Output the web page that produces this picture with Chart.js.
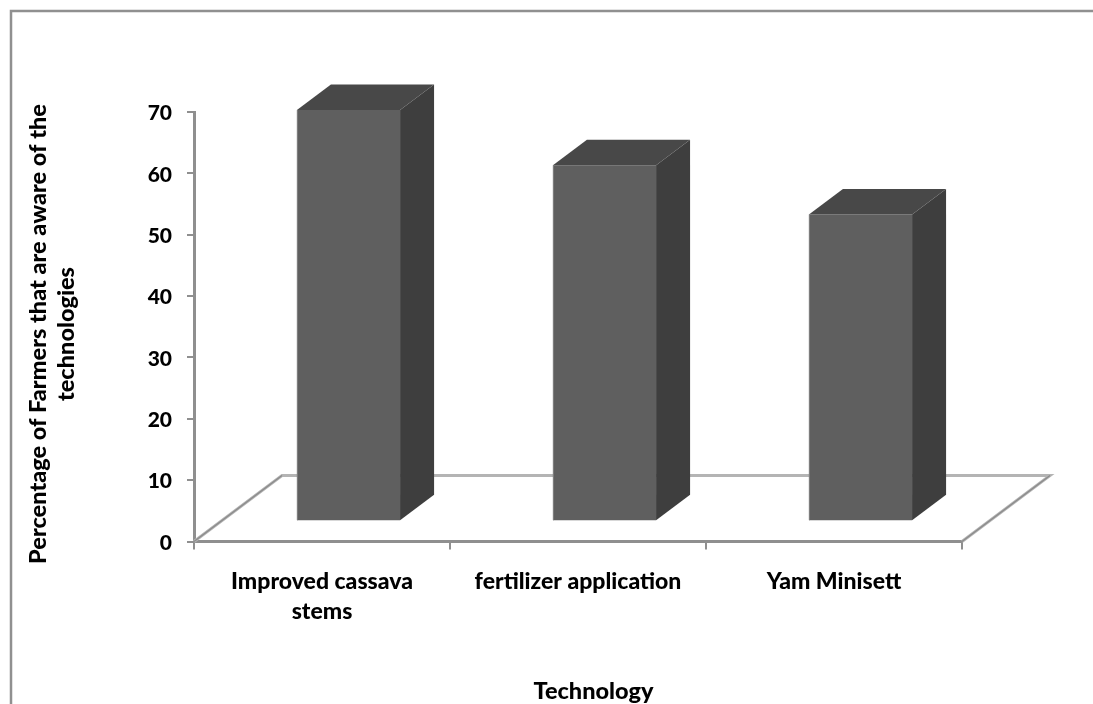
<!DOCTYPE html>
<html>
<head>
<meta charset="utf-8">
<title>Technology awareness</title>
<style>
    html, body { margin: 0; padding: 0; background: #fff; overflow: hidden; }
    canvas { display: block; }
</style>
<script src="https://cdn.jsdelivr.net/npm/chart.js@4"></script>
</head>
<body>
<canvas id="awarenessChart" width="1093" height="704"></canvas>
<script>
const categories = [['Improved cassava', 'stems'], 'fertilizer application', 'Yam Minisett'];
const awareness = [67, 58, 50];
const yTicks = [0, 10, 20, 30, 40, 50, 60, 70];
const xTitle = 'Technology';
const yTitle = ['Percentage of Farmers that are aware of the', 'technologies'];

const AXIS_GREY = '#8f8f8f';
const FONT = 'Lato';

// bars stand part way back on the floor, then extrude further back
const barShift = { x: 26.5, y: -20.3 };
const barDepth = { x: 34, y: 25.5 };
const floorDepth = { x: 88, y: 66 };

const pseudo3d = {
    id: 'pseudo3d',
    beforeDraw(chart) {
        // frame runs off the right and bottom edges
        const ctx = chart.ctx;
        ctx.save();
        ctx.strokeStyle = '#909090';
        ctx.lineWidth = 2.5;
        ctx.beginPath();
        ctx.moveTo(11, 704);
        ctx.lineTo(11, 11);
        ctx.lineTo(1093, 11);
        ctx.stroke();
        ctx.restore();
    },
    beforeDatasetsDraw(chart) {
        const ctx = chart.ctx;
        const { left, right, bottom } = chart.chartArea;
        const backY = bottom - floorDepth.y;
        ctx.save();
        // floor outline
        ctx.lineCap = 'butt';
        ctx.strokeStyle = '#b4b4b4';
        ctx.lineWidth = 3;
        ctx.beginPath();
        ctx.moveTo(left, bottom);
        ctx.lineTo(left + floorDepth.x, backY);
        ctx.lineTo(right + floorDepth.x, backY);
        ctx.lineTo(right, bottom);
        ctx.stroke();
        ctx.strokeStyle = '#8a8a8a';
        ctx.lineWidth = 1.2;
        ctx.beginPath();
        ctx.moveTo(left, bottom);
        ctx.lineTo(left + floorDepth.x, backY);
        ctx.moveTo(right + floorDepth.x, backY);
        ctx.lineTo(right, bottom);
        ctx.stroke();
        ctx.restore();
        // front faces come from the bar controller, moved back on the floor
        ctx.save();
        ctx.translate(barShift.x, barShift.y);
    },
    afterDatasetsDraw(chart) {
        const ctx = chart.ctx;
        ctx.restore();
        ctx.save();
        chart.getDatasetMeta(0).data.forEach(bar => {
            const p = bar.getProps(['x', 'y', 'base', 'width'], true);
            const l = p.x - p.width / 2 + barShift.x;
            const r = p.x + p.width / 2 + barShift.x;
            const t = p.y + barShift.y;
            const b = p.base + barShift.y;

            // side face
            ctx.fillStyle = '#3e3e3e';
            ctx.beginPath();
            ctx.moveTo(r, t);
            ctx.lineTo(r + barDepth.x, t - barDepth.y);
            ctx.lineTo(r + barDepth.x, b - barDepth.y);
            ctx.lineTo(r, b);
            ctx.closePath();
            ctx.fill();

            // top face
            ctx.fillStyle = '#484848';
            ctx.beginPath();
            ctx.moveTo(l, t);
            ctx.lineTo(l + barDepth.x, t - barDepth.y);
            ctx.lineTo(r + barDepth.x, t - barDepth.y);
            ctx.lineTo(r, t);
            ctx.closePath();
            ctx.fill();

            // pale left edge of the front face
            ctx.fillStyle = '#808080';
            ctx.fillRect(l, t, 1, b - t);
        });
        ctx.restore();
    },
    afterDraw(chart) {
        // axis titles
        const ctx = chart.ctx;
        ctx.save();
        ctx.fillStyle = '#000';
        ctx.textAlign = 'center';
        ctx.font = '900 23.5px ' + FONT;
        ctx.textBaseline = 'alphabetic';
        ctx.fillText(xTitle, 593.5, 699);
        ctx.textBaseline = 'middle';
        ctx.translate(0, 334);
        ctx.rotate(-Math.PI / 2);
        ctx.fillText(yTitle[0], 0, 38);
        ctx.fillText(yTitle[1], 0, 66);
        ctx.restore();
    }
};

const chart = new Chart(document.getElementById('awarenessChart'), {
    type: 'bar',
    data: {
        labels: categories,
        datasets: [{
            data: awareness,
            backgroundColor: '#5f5f5f',
            borderWidth: 0,
            barPercentage: 1,
            categoryPercentage: 0.403,
            clip: false
        }]
    },
    options: {
        responsive: false,
        animation: false,
        layout: { padding: { top: 112, right: 131 } },
        plugins: {
            legend: { display: false },
            tooltip: { enabled: false }
        },
        scales: {
            x: {
                grid: { drawOnChartArea: false, offset: true, color: AXIS_GREY, lineWidth: 2, tickLength: 8 },
                border: { color: AXIS_GREY, width: 3 },
                ticks: {
                    color: '#000',
                    padding: 17,
                    maxRotation: 0,
                    autoSkip: false,
                    font: { family: FONT, weight: '900', size: 23, lineHeight: 1.3 }
                },
                afterFit(scale) { scale.height = 162.5; }
            },
            y: {
                min: 0,
                max: 70,
                afterBuildTicks(scale) { scale.ticks = yTicks.map(value => ({ value })); },
                grid: { drawOnChartArea: false, color: AXIS_GREY, lineWidth: 2, tickLength: 7 },
                border: { color: AXIS_GREY, width: 3 },
                ticks: {
                    color: '#000',
                    padding: 15,
                    labelOffset: 1.5,
                    font: { family: FONT, weight: '900', size: 21 }
                },
                afterFit(scale) { scale.width = 194; }
            }
        }
    },
    plugins: [pseudo3d]
});
</script>
</body>
</html>
